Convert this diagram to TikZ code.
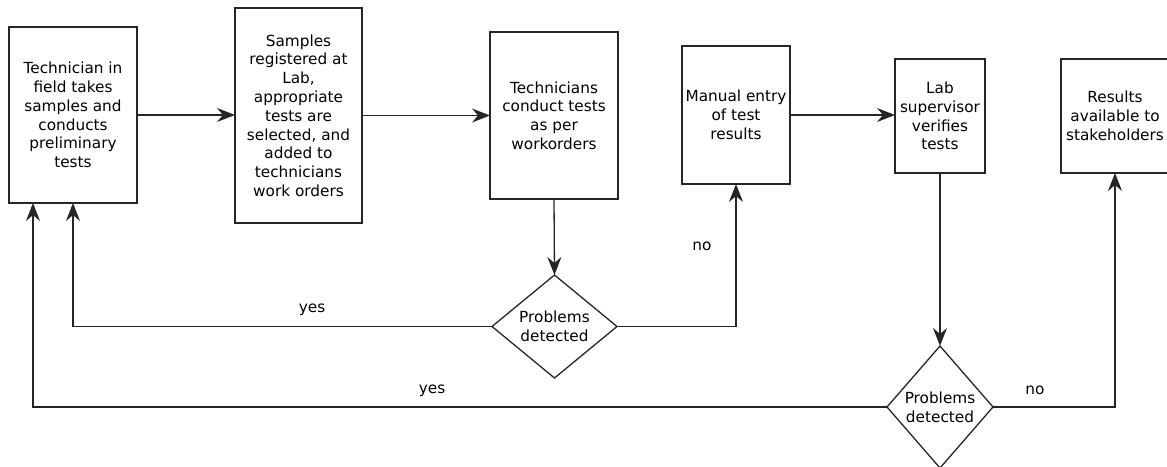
\documentclass[tikz,border=0pt]{standalone}
\usepackage{fontspec}
\setmainfont{DejaVu Sans}
\usetikzlibrary{shapes.geometric,arrows.meta,calc}

\tikzset{
  stepbox/.style={draw=black!85, line width=1.3pt, rectangle, inner sep=0pt, outer sep=0pt,
    align=center, font=\fontsize{15.3}{18.8}\selectfont},
  decision/.style={draw=black!85, line width=1.3pt, diamond, inner sep=0pt, outer sep=0pt,
    align=center, font=\fontsize{15.3}{18.8}\selectfont},
  flow/.style={draw=black!85, line width=1.3pt,
    -{Stealth[length=18pt,width=14pt,inset=6pt]}},
  lbl/.style={font=\fontsize{15.3}{18.8}\selectfont, inner sep=0pt}
}

\begin{document}
\begin{tikzpicture}[x=1pt,y=-1pt]
  \useasboundingbox (0,0) rectangle (1167,466);

  % process steps
  \node[stepbox, minimum width=128pt, minimum height=176pt] (field) at (73,115)
    {Technician in\\field takes\\samples and\\conducts\\preliminary\\tests};
  \node[stepbox, minimum width=127pt, minimum height=215pt] (register) at (298.5,115.5)
    {Samples\\registered at\\Lab,\\appropriate\\tests are\\selected, and\\added to\\technicians\\work orders};
  \node[stepbox, minimum width=128pt, minimum height=167pt] (conduct) at (554,115.5)
    {Technicians\\conduct tests\\as per\\workorders};
  \node[stepbox, minimum width=108pt, minimum height=138pt] (entry) at (736,115)
    {Manual entry\\of test\\results};
  \node[stepbox, minimum width=90pt, minimum height=114pt] (verify) at (940,116)
    {Lab\\supervisor\\verifies\\tests};
  \node[stepbox, minimum width=108pt, minimum height=114pt] (results) at (1115,116)
    {Results\\available to\\stakeholders};

  % decisions
  \node[decision, minimum width=125pt, minimum height=103pt, aspect=1.21] (check1) at (554.5,326.5)
    {Problems\\detected};
  \node[decision, minimum width=106pt, minimum height=122pt, aspect=0.87] (check2) at (940,407)
    {Problems\\detected};

  % return points under the first step
  \coordinate (backA) at ($(field.south)+(-40,0)$);
  \coordinate (backB) at (field.south);

  % main flow
  \draw[flow] (field.east) -- (field.east -| register.west);
  \draw[flow] (register.east) -- (register.east -| conduct.west);
  \draw[flow] (conduct.south) -- (check1.north);
  \draw[flow] (entry.east) -- (entry.east -| verify.west);
  \draw[flow] (verify.south) -- (check2.north);

  % decision branches
  \draw[flow] (check1.west) -| (backB);
  \draw[flow] (check1.east) -| (entry.south);
  \draw[flow] (check2.west) -| (backA);
  \draw[flow] (check2.east) -| (results.south);

  % branch labels
  \node[lbl] (yes1) at (312,310) {yes};
  \node[lbl] (no1) at (702,246) {no};
  \node[lbl] (yes2) at (432,391) {yes};
  \node[lbl] (no2) at (1035,390) {no};
\end{tikzpicture}
\end{document}
